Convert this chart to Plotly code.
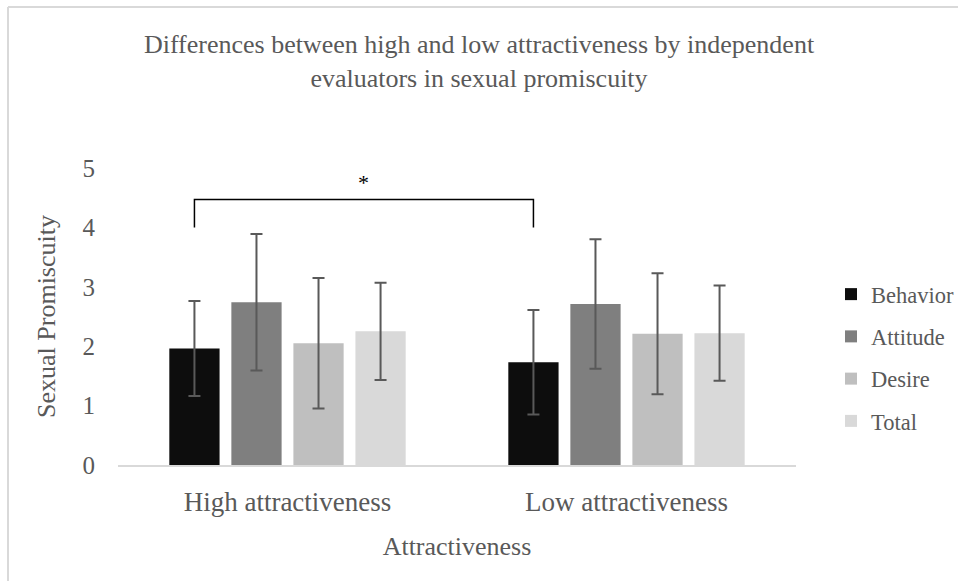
import plotly.graph_objects as go

# Group means and standard deviations of the promiscuity scores
groups = ["High attractiveness", "Low attractiveness"]
series = ["Behavior", "Attitude", "Desire", "Total"]
means_behavior = [1.96, 1.73]
means_attitude = [2.74, 2.71]
means_desire = [2.05, 2.21]
means_total = [2.25, 2.22]
sd_behavior = [0.80, 0.88]
sd_attitude = [1.15, 1.09]
sd_desire = [1.10, 1.02]
sd_total = [0.82, 0.80]
colors = ["#0d0d0d", "#7f7f7f", "#bfbfbf", "#d9d9d9"]

means = [means_behavior, means_attitude, means_desire, means_total]
sds = [sd_behavior, sd_attitude, sd_desire, sd_total]

# significance bracket between the two Behavior bars
bracket_low = 4.0
bracket_high = 4.47
star_y = 4.75

FONT = "Liberation Serif"
TXT = "#595959"
BARGAP = 0.268
GROUPGAP = 0.19

fig = go.Figure()
for name, m, s, c in zip(series, means, sds, colors):
    fig.add_trace(go.Bar(
        name=name, x=groups, y=m, marker=dict(color=c, line=dict(width=0)),
        legendgroup=name,
        error_y=dict(type="data", array=s, visible=True, color="#595959",
                     thickness=2, width=6),
    ))

# horizontal offset of the first bar in each group (category units)
slot = (1 - BARGAP) / len(series)
first_offset = -slot * (len(series) - 1) / 2
xl = 0 + first_offset
xr = 1 + first_offset
fig.add_shape(type="path",
              path=f"M {xl} {bracket_low} L {xl} {bracket_high} L {xr} {bracket_high} L {xr} {bracket_low}",
              xref="x", yref="y", line=dict(color="black", width=1.5))
fig.add_annotation(x=(xl + xr) / 2, y=star_y, xref="x", yref="y", text="*",
                   showarrow=False, font=dict(family=FONT, size=22, color="black"))

# thin frame around the chart area
fl = (8 - 118) / 678
ft = (465 - 7) / 297
fig.add_shape(type="line", xref="paper", yref="paper", x0=fl, x1=1.5, y0=ft, y1=ft,
              line=dict(color="#d9d9d9", width=2))
fig.add_shape(type="line", xref="paper", yref="paper", x0=fl, x1=fl, y0=ft, y1=-1,
              line=dict(color="#d9d9d9", width=2))

fig.update_layout(
    width=958, height=581,
    margin=dict(l=118, r=162, t=168, b=116),
    paper_bgcolor="white", plot_bgcolor="white",
    barmode="group", bargap=BARGAP, bargroupgap=GROUPGAP,
    font=dict(family=FONT, color=TXT, size=26),
    title=dict(text="Differences between high and low attractiveness by independent<br>evaluators in sexual promiscuity",
               x=0.5, xref="container", xanchor="center",
               y=1 - 53 / 581, yref="container", yanchor="top",
               font=dict(family=FONT, size=26, color=TXT)),
    legend=dict(x=831 / 958, xref="container", xanchor="left",
                y=1 - 273 / 581, yref="container", yanchor="top",
                font=dict(family=FONT, size=22.5, color=TXT),
                tracegroupgap=10, itemwidth=30, bgcolor="rgba(0,0,0,0)"),
    xaxis=dict(type="category", showline=True, linecolor="#d9d9d9", linewidth=2,
               showgrid=False, ticks="", ticklabelstandoff=12,
               tickfont=dict(family=FONT, size=27, color=TXT),
               title=dict(text="Attractiveness", standoff=20,
                          font=dict(family=FONT, size=26, color=TXT))),
    yaxis=dict(range=[0, 5], tickvals=[0, 1, 2, 3, 4, 5], showgrid=False,
               showline=False, zeroline=False, ticks="", ticklabelstandoff=22,
               tickfont=dict(family=FONT, size=25, color=TXT),
               title=dict(text="Sexual Promiscuity", standoff=19,
                          font=dict(family=FONT, size=26, color=TXT))),
)

fig.write_html("out.html")
